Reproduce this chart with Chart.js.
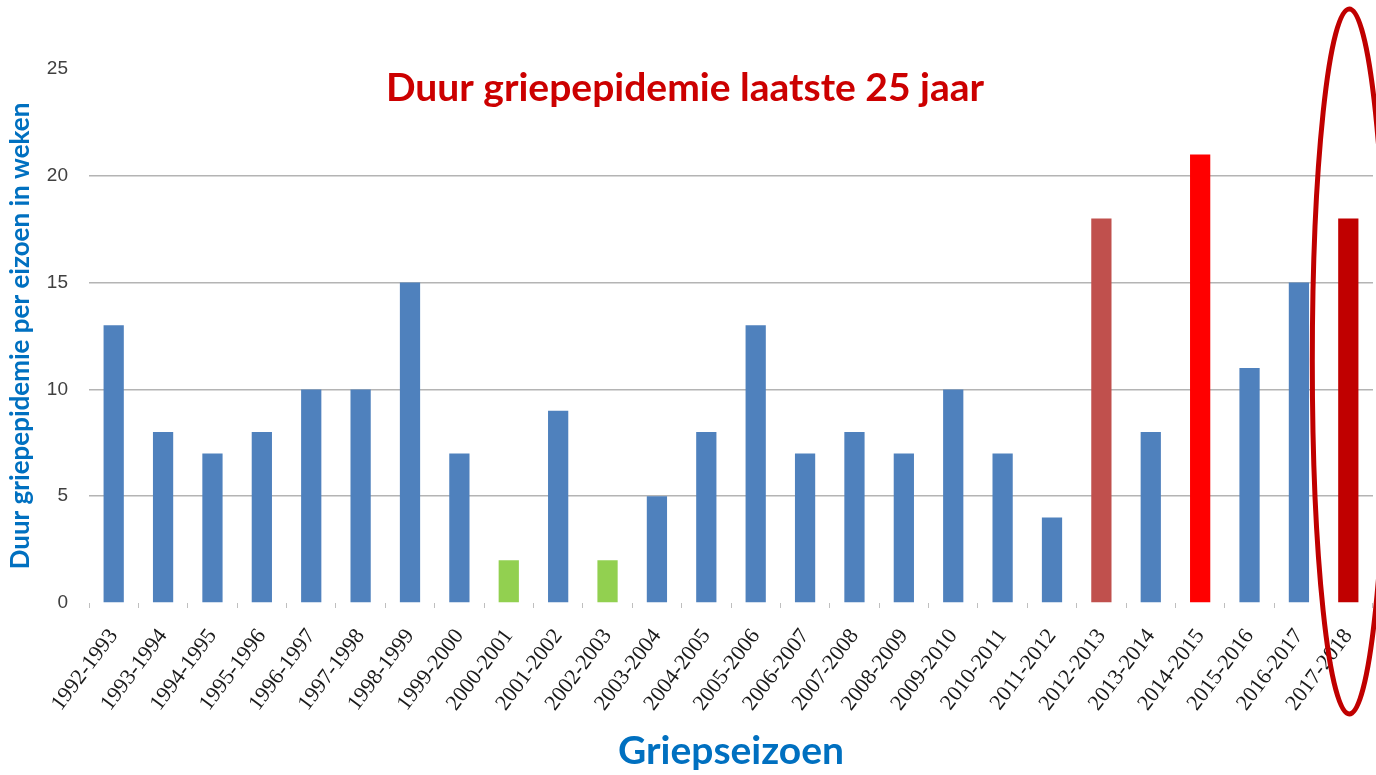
<!DOCTYPE html>
<html>
<head>
<meta charset="utf-8">
<script src="https://cdn.jsdelivr.net/npm/chart.js@4/dist/chart.umd.min.js"></script>
<style>
html,body{margin:0;padding:0;background:#fff;}
#wrap{width:1376px;height:775px;position:relative;}
</style>
</head>
<body>
<div id="wrap"><canvas id="c" width="1376" height="775"></canvas></div>
<script>
const seasons = ["1992-1993","1993-1994","1994-1995","1995-1996","1996-1997","1997-1998","1998-1999","1999-2000","2000-2001","2001-2002","2002-2003","2003-2004","2004-2005","2005-2006","2006-2007","2007-2008","2008-2009","2009-2010","2010-2011","2011-2012","2012-2013","2013-2014","2014-2015","2015-2016","2016-2017","2017-2018"];
const weeks = [13,8,7,8,10,10,15,7,2,9,2,5,8,13,7,8,7,10,7,4,18,8,21,11,15,18];
const barColors = ["#4F81BD","#4F81BD","#4F81BD","#4F81BD","#4F81BD","#4F81BD","#4F81BD","#4F81BD","#92D050","#4F81BD","#92D050","#4F81BD","#4F81BD","#4F81BD","#4F81BD","#4F81BD","#4F81BD","#4F81BD","#4F81BD","#4F81BD","#C0504D","#4F81BD","#FF0000","#4F81BD","#4F81BD","#C00000"];
const yTicks = [0,5,10,15,20,25];
const chartTitle = "Duur griepepidemie laatste 25 jaar";
const yTitle = "Duur griepepidemie per eizoen in weken";
const xTitle = "Griepseizoen";

const overlay = {
  id: 'overlay',
  afterDatasetsDraw(chart) {
    const ctx = chart.ctx;
    const ca = chart.chartArea;
    ctx.save();
    ctx.font = "bold 39px Lato";
    ctx.fillStyle = "#CC0000";
    ctx.textAlign = "center";
    ctx.textBaseline = "middle";
    ctx.fillText(chartTitle, 685, 88);
    ctx.restore();
    const meta = chart.getDatasetMeta(0);
    const last = meta.data[meta.data.length - 1];
    const top = ca.top - 60, bottom = ca.bottom + 111;
    ctx.save();
    ctx.strokeStyle = "#C00000";
    ctx.lineWidth = 5;
    ctx.beginPath();
    ctx.ellipse(last.x + 1, (top + bottom) / 2, 37, (bottom - top) / 2, 0, 0, Math.PI * 2);
    ctx.stroke();
    ctx.restore();
  }
};

new Chart(document.getElementById('c'), {
  type: 'bar',
  data: {
    labels: seasons,
    datasets: [{
      data: weeks,
      backgroundColor: barColors,
      borderWidth: 0,
      barPercentage: 0.41,
      categoryPercentage: 1.0
    }]
  },
  options: {
    responsive: false,
    animation: false,
    layout: { padding: { top: 69, right: 3, left: 0, bottom: 0 } },
    plugins: { legend: { display: false }, tooltip: { enabled: false }, title: { display: false } },
    scales: {
      x: {
        offset: true,
        grid: { display: true, drawOnChartArea: false, drawTicks: true, tickLength: 5, color: "#BFBFBF", offset: true },
        border: { display: false },
        ticks: {
          autoSkip: false, minRotation: 53, maxRotation: 53, padding: 16,
          color: "#1a1a1a", font: { family: "Liberation Serif", size: 22 }
        },
        title: { display: true, text: xTitle, color: "#0070C0", font: { family: "Lato", size: 39, weight: "bold" }, padding: { top: 0, bottom: 0 } },
        afterFit(s) { s.height = 172; s.paddingLeft = 0; s.paddingRight = 0; }
      },
      y: {
        min: 0, max: 25,
        afterBuildTicks(s) { s.ticks = yTicks.map(v => ({ value: v })); },
        grid: {
          drawTicks: false,
          lineWidth: 1.5,
          color: c => (c.tick && c.tick.value > 0 && c.tick.value < 25) ? "#B4B4B4" : "rgba(0,0,0,0)"
        },
        border: { display: false },
        ticks: { padding: 21, color: "#404040", font: { family: "Liberation Sans", size: 19 } },
        title: { display: true, text: yTitle, color: "#0070C0", font: { family: "Lato", size: 26, weight: "bold" }, padding: { top: 5, bottom: 0 } },
        afterFit(s) { s.width = 89; s.paddingTop = 0; s.paddingBottom = 0; }
      }
    }
  },
  plugins: [overlay]
});
</script>
</body>
</html>
